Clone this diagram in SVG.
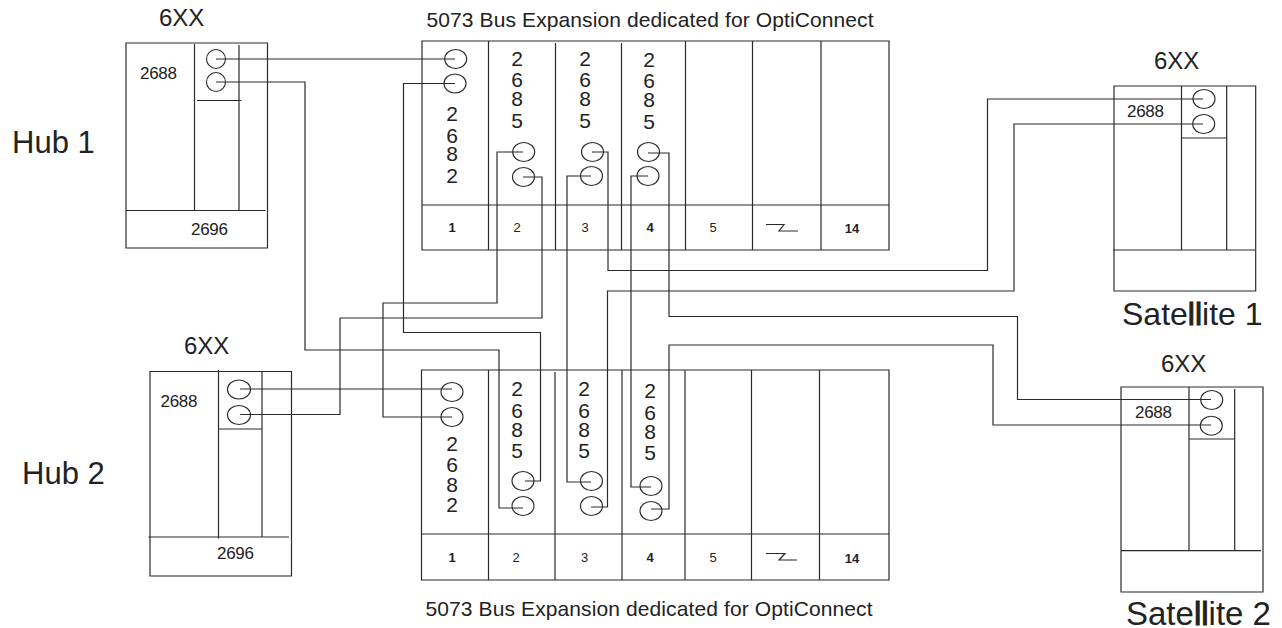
<svg xmlns="http://www.w3.org/2000/svg" width="1282" height="628" viewBox="0 0 1282 628">
<style>
text{font-family:"Liberation Sans",Arial,sans-serif;fill:#222}
.l,.c path{fill:none;stroke:#2b2b2b;stroke-width:1.2}
ellipse{fill:none;stroke:#2b2b2b;stroke-width:1.1}
.t{font-size:24px}.h{font-size:31px}.s{font-size:32px}.m{font-size:17px;letter-spacing:-.3px}
.d{font-size:21px;text-anchor:middle}.n{font-size:13px;text-anchor:middle}.b{font-weight:bold}
.ttl{font-size:21px}
.ll{stroke:#222;stroke-width:1}
</style>
<rect width="1282" height="628" fill="#fff"/>
<g id="connectors" class="c">
<path d="M216 59H455"/>
<path d="M216 82H305V350H499V508H523"/>
<path d="M455 83.500H403.500V332.500H540.500V481H525"/>
<path d="M523 152H497V303H383V417H452"/>
<path d="M523 177H542V318H340V414.500H240"/>
<path d="M240 389H452"/>
<path d="M591 176H567V482H591"/>
<path d="M592 152H608V270.500H987.500V99H1203"/>
<path d="M591 507H607.500V291H1014V124H1203"/>
<path d="M648 176H631V487H651"/>
<path d="M648 153H669V316.500H1017.500V399.500H1211"/>
<path d="M651 509H669V345H993V425H1211"/>
</g>
<g id="hub1">
<text class="t" x="159" y="26">6XX</text>
<text class="h" x="12" y="153">Hub 1</text>
<path class="l" d="M126 43H267.500V248H126ZM125.500 210.500H265.500M194.500 44V210.500M239 45V210.500M197 100.500H241.500"/>
<ellipse cx="216" cy="59" rx="9.500" ry="9.500"/><ellipse cx="216" cy="82" rx="9.500" ry="9.500"/>
<text class="m" x="140" y="79">2688</text><text class="m" x="191" y="235">2696</text>
</g>
<g id="hub2">
<text class="t" x="184" y="354">6XX</text>
<text class="h" x="22" y="484">Hub 2</text>
<path class="l" d="M150 371.500H291.500V576H150ZM148.500 537H289M218.500 370V538.500M262 372V537M218.500 429H262"/>
<ellipse cx="239" cy="389.500" rx="11.500" ry="9.500"/><ellipse cx="239" cy="415" rx="11.500" ry="9.500"/>
<text class="m" x="160.500" y="407">2688</text><text class="m" x="217" y="559">2696</text>
</g>
<g id="satellite1">
<text class="t" x="1154" y="69">6XX</text>
<text class="s" x="1122" y="325">Sate<tspan class="ll">ll</tspan>ite 1</text>
<path class="l" d="M1114 86H1255.700V291H1114ZM1113 250H1255M1181.500 86V250M1226.700 86V250M1182 138H1227"/>
<ellipse cx="1204" cy="99" rx="11" ry="9.500"/><ellipse cx="1203.700" cy="124" rx="11" ry="9.500"/>
<text class="m" x="1127" y="117">2688</text>
</g>
<g id="satellite2">
<text class="t" x="1161" y="372">6XX</text>
<text class="s" x="1126" y="625" style="font-size:33px">Sate<tspan class="ll">ll</tspan>ite 2</text>
<path class="l" d="M1121 387H1263V592H1121ZM1121 550.700H1261M1189 387V551M1234.700 389V551M1189 439H1234.700"/>
<ellipse cx="1211.700" cy="400" rx="11" ry="9.500"/><ellipse cx="1211.300" cy="425.700" rx="11" ry="9.500"/>
<text class="m" x="1135" y="418">2688</text>
</g>
<g id="expansion-top">
<text class="ttl" x="426.500" y="26.500" textLength="447" lengthAdjust="spacing">5073 Bus Expansion dedicated for OptiConnect</text>
<path class="l" d="M422 41H889V250H422ZM422 205H889M488.500 41V250M555.500 43V250M621.500 43V250M685.500 41V250M752.500 41V250M821 41V250"/>
<ellipse cx="455.700" cy="59" rx="11" ry="9.500"/><ellipse cx="455" cy="83.500" rx="11" ry="9.500"/>
<ellipse cx="523.700" cy="152" rx="11" ry="9.500"/><ellipse cx="523.500" cy="177" rx="11" ry="9.500"/>
<ellipse cx="592.500" cy="152" rx="11" ry="9.500"/><ellipse cx="591.500" cy="176" rx="11" ry="9.500"/>
<ellipse cx="648.500" cy="152" rx="11" ry="9.500"/><ellipse cx="648" cy="176" rx="11" ry="9.500"/>
<text class="d"><tspan x="452" y="121">2</tspan><tspan x="452" y="143">6</tspan><tspan x="452" y="161">8</tspan><tspan x="452" y="183">2</tspan></text>
<text class="d"><tspan x="517" y="66">2</tspan><tspan x="517" y="87">6</tspan><tspan x="517" y="106">8</tspan><tspan x="517" y="128">5</tspan></text>
<text class="d"><tspan x="585" y="66">2</tspan><tspan x="585" y="87">6</tspan><tspan x="585" y="106">8</tspan><tspan x="585" y="128">5</tspan></text>
<text class="d"><tspan x="649" y="67">2</tspan><tspan x="649" y="88">6</tspan><tspan x="649" y="107">8</tspan><tspan x="649" y="129">5</tspan></text>
<text class="n b" x="452" y="232">1</text><text class="n" x="517" y="232">2</text><text class="n" x="585" y="232">3</text><text class="n b" x="650" y="232">4</text><text class="n" x="713" y="232">5</text><text class="n b" x="852" y="233">14</text>
<path class="l" d="M766 224.500H784L779 231H798"/>
</g>
<g id="expansion-bottom">
<text class="ttl" x="425.500" y="615.500" textLength="447" lengthAdjust="spacing">5073 Bus Expansion dedicated for OptiConnect</text>
<path class="l" d="M421.500 370H889V580H421.500ZM421.500 534H889M488.500 370V580M555 372V580M622 370V580M685 370V580M751.500 370V580M819.500 370V580"/>
<ellipse cx="452" cy="392" rx="11" ry="9.500"/><ellipse cx="452" cy="417" rx="11" ry="9.500"/>
<ellipse cx="523" cy="481" rx="11" ry="9.500"/><ellipse cx="523" cy="506" rx="11" ry="9.500"/>
<ellipse cx="591.500" cy="481" rx="11" ry="9.500"/><ellipse cx="591.500" cy="506" rx="11" ry="9.500"/>
<ellipse cx="651" cy="486" rx="11" ry="9.500"/><ellipse cx="651" cy="511" rx="11" ry="9.500"/>
<text class="d"><tspan x="452" y="451">2</tspan><tspan x="452" y="472">6</tspan><tspan x="452" y="492">8</tspan><tspan x="452" y="512">2</tspan></text>
<text class="d"><tspan x="517" y="396">2</tspan><tspan x="517" y="418">6</tspan><tspan x="517" y="437">8</tspan><tspan x="517" y="458">5</tspan></text>
<text class="d"><tspan x="584" y="396">2</tspan><tspan x="584" y="418">6</tspan><tspan x="584" y="437">8</tspan><tspan x="584" y="458">5</tspan></text>
<text class="d"><tspan x="650" y="398">2</tspan><tspan x="650" y="420">6</tspan><tspan x="650" y="439">8</tspan><tspan x="650" y="460">5</tspan></text>
<text class="n b" x="452" y="562">1</text><text class="n" x="516" y="562">2</text><text class="n" x="584.500" y="562">3</text><text class="n b" x="650" y="562">4</text><text class="n" x="713" y="562">5</text><text class="n b" x="852" y="562.500">14</text>
<path class="l" d="M766 553.500H785L779 560H797"/>
</g>
</svg>
